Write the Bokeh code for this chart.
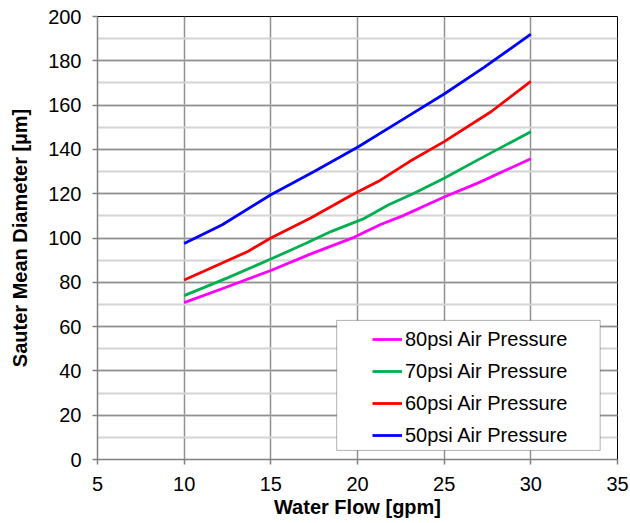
from bokeh.plotting import figure
from bokeh.models import Legend, LegendItem, BoxAnnotation, SingleIntervalTicker
from bokeh.embed import file_html
from bokeh.resources import INLINE

# Data
x_50 = [10, 12.2, 15, 17.5, 20, 22.5, 25, 27.3, 30]
y_50 = [97.5, 106, 119.5, 130, 141, 153, 165, 177, 192]

x_60 = [10, 12, 13.7, 15, 17.3, 19.8, 21.3, 23, 25, 27.7, 30]
y_60 = [81, 88, 94, 100, 109, 120, 126, 134.5, 143.5, 157, 170.7]

x_70 = [10, 12.5, 15, 17, 18.5, 20.3, 21.8, 23.2, 25, 27, 30]
y_70 = [74, 82, 90.5, 97.5, 103, 108.5, 115, 120, 127, 135.5, 148]

x_80 = [10, 12.5, 15, 17.2, 19.8, 21.3, 22.6, 23.6, 25, 27, 30]
y_80 = [70.8, 78, 85.3, 92.5, 100.3, 106, 110, 113.5, 118.5, 125, 135.8]

series_labels = ["80psi Air Pressure", "70psi Air Pressure",
                 "60psi Air Pressure", "50psi Air Pressure"]
series_colors = ["#FF00FF", "#00B050", "#FF0000", "#0000FF"]

x_label = "Water Flow [gpm]"
y_label = "Sauter Mean Diameter [\u00b5m]"

FONT = "Liberation Sans"

p = figure(width=630, height=523, output_backend="svg", toolbar_location=None,
           x_range=(5, 35), y_range=(0, 200),
           min_border_left=97, min_border_right=13, min_border_top=16,
           min_border_bottom=64)

p.background_fill_color = "white"
p.border_fill_color = "white"
p.outline_line_color = "black"
p.outline_line_width = 1

p.xaxis.ticker = SingleIntervalTicker(interval=5, num_minor_ticks=0)
p.yaxis.ticker = SingleIntervalTicker(interval=20, num_minor_ticks=2)

for ax in (p.xaxis[0], p.yaxis[0]):
    ax.axis_line_color = "#808080"
    ax.axis_line_width = 1.5
    ax.major_tick_line_color = "#808080"
    ax.major_tick_line_width = 1.5
    ax.major_tick_out = 5
    ax.major_tick_in = 0
    ax.minor_tick_line_color = None
    ax.major_label_text_font = FONT
    ax.major_label_text_font_size = "20px"
    ax.major_label_text_color = "black"
    ax.axis_label_text_font = FONT
    ax.axis_label_text_font_size = "20px"
    ax.axis_label_text_font_style = "bold"
    ax.axis_label_text_color = "black"

p.xaxis.axis_label = x_label
p.yaxis.axis_label = y_label
p.xaxis.major_label_standoff = 12
p.yaxis.major_label_standoff = 11
p.xaxis.axis_label_standoff = 2
p.yaxis.axis_label_standoff = 14

p.xgrid.grid_line_color = "#909090"
p.xgrid.grid_line_width = 1.5
p.ygrid.grid_line_color = "#909090"
p.ygrid.grid_line_width = 1.5
p.ygrid.minor_grid_line_color = "#d4d4d4"
p.ygrid.minor_grid_line_width = 2

renderers = []
for xs, ys, c in [(x_80, y_80, series_colors[0]), (x_70, y_70, series_colors[1]),
                  (x_60, y_60, series_colors[2]), (x_50, y_50, series_colors[3])]:
    r = p.line(xs, ys, line_color=c, line_width=2.8)
    renderers.append(r)

# legend frame (white box with black border)
box = BoxAnnotation(left=18.8, right=34.0, bottom=4.1, top=62.8,
                    fill_color="white", fill_alpha=1.0,
                    line_color="black", line_width=1, level="annotation")
p.add_layout(box)

legend = Legend(items=[LegendItem(label=l, renderers=[r])
                       for l, r in zip(series_labels, renderers)],
                location=(275, 8), padding=0, margin=0, spacing=0,
                label_height=32, glyph_height=32, glyph_width=30,
                label_standoff=3,
                label_text_font=FONT, label_text_font_size="20px",
                label_text_color="black",
                border_line_color=None, background_fill_alpha=0)
p.add_layout(legend, "center")

open("out.html", "w").write(file_html(p, INLINE))
